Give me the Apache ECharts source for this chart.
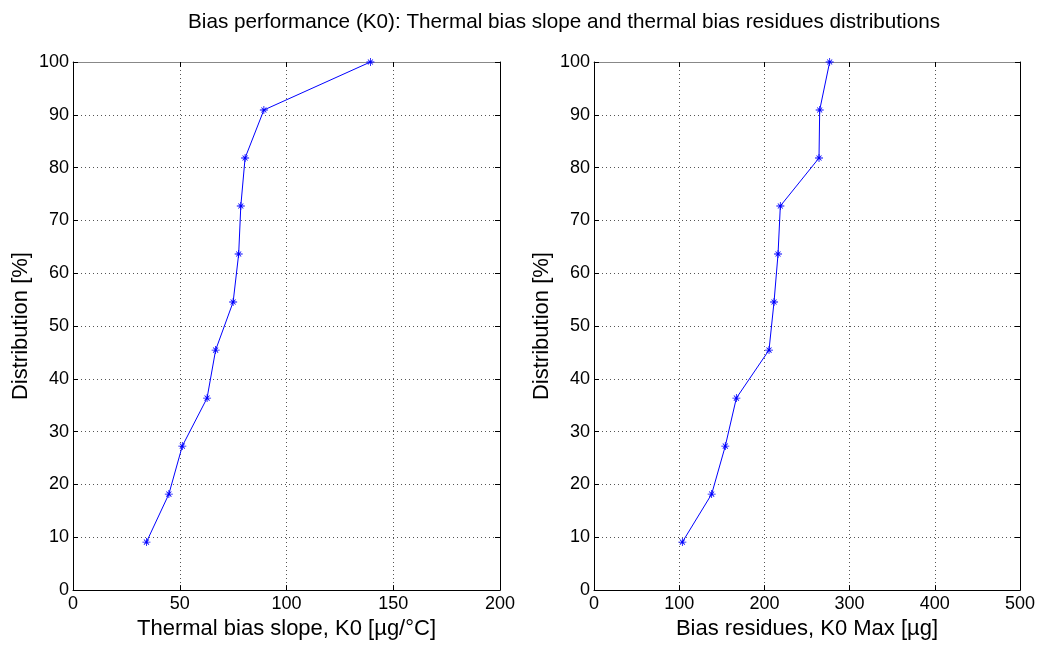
<!DOCTYPE html>
<html>
<head>
<meta charset="utf-8">
<script src="https://cdn.jsdelivr.net/npm/echarts@6/dist/echarts.min.js"></script>
<style>html,body{margin:0;padding:0;background:#fff;overflow:hidden}#c{width:1041px;height:645px}</style>
</head>
<body>
<div id="c"></div>
<script>
const distribution = [9.09, 18.18, 27.27, 36.36, 45.45, 54.55, 63.64, 72.73, 81.82, 90.91, 100];
const slopeK0 = [34.4, 44.9, 51.2, 62.8, 66.8, 75.0, 77.6, 78.6, 80.6, 89.4, 139.3];
const residuesK0 = [103.7, 138.1, 154.1, 167.1, 205.4, 211.3, 216.0, 218.7, 264.1, 264.9, 276.6];
const titleText = 'Bias performance (K0): Thermal bias slope and thermal bias residues distributions';
const leftXName = 'Thermal bias slope, K0 [µg/°C]';
const rightXName = 'Bias residues, K0 Max [µg]';
const yName = 'Distribution [%]';

const star = 'path://M0 4.5H10V5.5H0Z M4.5 0H5.5V10H4.5Z M1.5 2.2L2.2 1.5L8.5 7.8L7.8 8.5Z M7.8 1.5L8.5 2.2L2.2 8.5L1.5 7.8Z';
const font = 'Liberation Sans, Arial, sans-serif';

function mainX(idx, max, interval, name) {
  return {
    type: 'value', gridIndex: idx, min: 0, max: max, interval: interval, position: 'bottom',
    name: name, nameLocation: 'middle', nameGap: 26,
    nameTextStyle: {fontFamily: font, fontSize: 22, color: '#000'},
    axisLine: {show: true, onZero: false, lineStyle: {color: '#000', width: 1}},
    axisTick: {show: true, inside: true, length: 5, lineStyle: {color: '#000'}},
    axisLabel: {fontFamily: font, fontSize: 18, color: '#000', margin: 5},
    splitLine: {show: true, lineStyle: {color: '#555', type: [1, 3], width: 1}}
  };
}
function topX(idx, max, interval) {
  return {
    type: 'value', gridIndex: idx, min: 0, max: max, interval: interval, position: 'top',
    axisLine: {show: true, onZero: false, lineStyle: {color: '#888', width: 1}},
    axisTick: {show: true, inside: true, length: 5, lineStyle: {color: '#000'}},
    axisLabel: {show: false}, splitLine: {show: false}
  };
}
function mainY(idx) {
  return {
    type: 'value', gridIndex: idx, min: 0, max: 100, interval: 10, position: 'left',
    name: yName, nameLocation: 'middle', nameGap: 41,
    nameTextStyle: {fontFamily: font, fontSize: 22, color: '#000'},
    axisLine: {show: true, onZero: false, lineStyle: {color: '#000', width: 1}},
    axisTick: {show: true, inside: true, length: 5, lineStyle: {color: '#000'}},
    axisLabel: {fontFamily: font, fontSize: 18, color: '#000', margin: 4},
    splitLine: {show: true, lineStyle: {color: '#555', type: [1, 3], width: 1}}
  };
}
function rightY(idx) {
  return {
    type: 'value', gridIndex: idx, min: 0, max: 100, interval: 10, position: 'right',
    axisLine: {show: true, onZero: false, lineStyle: {color: '#000', width: 1}},
    axisTick: {show: true, inside: true, length: 5, lineStyle: {color: '#000'}},
    axisLabel: {show: false}, splitLine: {show: false}
  };
}
function lineSeries(xi, yi, xs) {
  return {
    type: 'line', xAxisIndex: xi, yAxisIndex: yi,
    data: xs.map((x, i) => [x, distribution[i]]),
    symbol: star, symbolSize: 8, showSymbol: true,
    lineStyle: {color: '#0000ff', width: 1},
    itemStyle: {color: '#0000ff'},
    animation: false, silent: true
  };
}

const chart = echarts.init(document.getElementById('c'), null, {renderer: 'canvas', width: 1041, height: 645});
chart.setOption({
  animation: false,
  backgroundColor: '#fff',
  title: {text: titleText, left: 559, textAlign: 'center', top: 7,
    textStyle: {fontFamily: font, fontSize: 20.7, fontWeight: 'normal', color: '#000'}},
  grid: [
    {left: 73, width: 427, top: 62, height: 532, containLabel: false},
    {left: 594, width: 426, top: 62, height: 532, containLabel: false}
  ],
  xAxis: [
    mainX(0, 200, 50, leftXName),
    mainX(1, 500, 100, rightXName),
    topX(0, 200, 50),
    topX(1, 500, 100)
  ],
  yAxis: [mainY(0), mainY(1), rightY(0), rightY(1)],
  series: [lineSeries(0, 0, slopeK0), lineSeries(1, 1, residuesK0)]
});
</script>
</body>
</html>
